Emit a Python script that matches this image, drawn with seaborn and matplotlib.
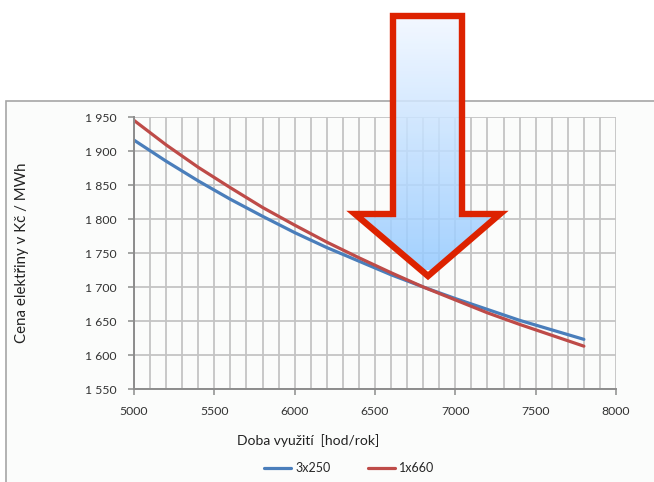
import numpy as np
import pandas as pd
import matplotlib
matplotlib.use("Agg")
import matplotlib.pyplot as plt
from matplotlib.patches import Polygon, Rectangle
from matplotlib.ticker import MultipleLocator, FixedLocator
import seaborn as sns

# Operating hours per year
hours = [5000, 5200, 5400, 5600, 5800, 6000, 6200, 6400,
         6600, 6800, 7000, 7200, 7400, 7600, 7800]

# Electricity price [CZK / MWh] for both unit configurations
price_3x250 = [1916, 1885, 1856, 1829, 1804, 1780, 1758, 1738,
               1718, 1700, 1683, 1667, 1651, 1637, 1623]
price_1x660 = [1945, 1909, 1876, 1846, 1817, 1791, 1766, 1743,
               1721, 1700, 1681, 1662, 1645, 1629, 1613]

series_names = ["3x250", "1x660"]
x_ticks = [5000, 5500, 6000, 6500, 7000, 7500, 8000]
y_ticks = [1550, 1600, 1650, 1700, 1750, 1800, 1850, 1900, 1950]
y_tick_labels = ["1 550", "1 600", "1 650", "1 700", "1 750",
                 "1 800", "1 850", "1 900", "1 950"]

df = pd.DataFrame({
    "hours": hours * 2,
    "price": price_3x250 + price_1x660,
    "series": [series_names[0]] * len(hours) + [series_names[1]] * len(hours),
})

sns.set_style("white")
plt.rcParams["font.family"] = ["Lato", "DejaVu Sans"]

W, H = 654, 482
fig = plt.figure(figsize=(W / 100, H / 100), dpi=100)
fig.patch.set_facecolor("white")

# background panel with a thin grey frame
bg = fig.add_axes([0, 0, 1, 1], zorder=0)
bg.set_xlim(0, W)
bg.set_ylim(H, 0)
bg.axis("off")
bg.add_patch(Rectangle((6, 101), 700, 500, facecolor="#fbfcfb",
                       edgecolor="#a6a6a6", linewidth=1.2))

left, right, top, bottom = 134, 616, 117, 389
ax = fig.add_axes([left / W, 1 - bottom / H, (right - left) / W, (bottom - top) / H],
                  zorder=1)
ax.patch.set_alpha(0)

palette = {"3x250": "#4a7ebb", "1x660": "#be4b48"}
sns.lineplot(data=df, x="hours", y="price", hue="series", palette=palette,
             linewidth=2.3, ax=ax, legend=True)

ax.set_xlim(5000, 8000)
ax.set_ylim(1550, 1950)
ax.xaxis.set_major_locator(FixedLocator(x_ticks))
ax.xaxis.set_minor_locator(MultipleLocator(100))
ax.set_yticks(y_ticks)
ax.set_yticklabels(y_tick_labels)

grid_c = "#c4c4c4"
ax.grid(True, which="both", axis="x", color=grid_c, linewidth=1.3)
ax.grid(True, which="major", axis="y", color=grid_c, linewidth=1.3)
ax.set_axisbelow(True)

for side in ["top", "right"]:
    ax.spines[side].set_visible(False)
for side in ["left", "bottom"]:
    ax.spines[side].set_color("#8c8c8c")
    ax.spines[side].set_linewidth(1.4)

ax.tick_params(axis="y", which="major", length=4.5, width=1.1, color="#8c8c8c",
               direction="out", pad=8, labelsize=8.8, labelcolor="#333333", left=True)
ax.tick_params(axis="x", which="major", length=4.5, width=1.1, color="#8c8c8c",
               direction="out", pad=8, labelsize=8.8, labelcolor="#333333", bottom=True)
ax.tick_params(axis="x", which="minor", length=0)

ax.set_xlabel("Doba využití  [hod/rok]", fontsize=10, color="#222222")
ax.xaxis.set_label_coords((308 - left) / (right - left), (bottom - 441) / (bottom - top))
ax.xaxis.label.set_va("center")
ax.set_ylabel("Cena elektřiny v Kč / MWh", fontsize=10.8, color="#222222")
ax.yaxis.set_label_coords(-(left - 22) / (right - left), 0.5)
ax.yaxis.label.set_va("center")

handles, labels = ax.get_legend_handles_labels()
ax.get_legend().remove()
fig.legend(handles, labels, loc="center", bbox_to_anchor=(349 / W, 1 - 468 / H),
           ncol=2, frameon=False, fontsize=9, handlelength=2.2,
           handletextpad=0.3, columnspacing=3.0)

# highlight arrow pointing at the break-even point
ov = fig.add_axes([0, 0, 1, 1], zorder=3)
ov.set_xlim(0, W)
ov.set_ylim(H, 0)
ov.axis("off")
ov.patch.set_alpha(0)

arrow_pts = [(393, 16), (462, 16), (462, 214), (500, 214),
             (428, 276), (355, 214), (393, 214)]
clip = Polygon(arrow_pts, closed=True, facecolor="none", edgecolor="none")
ov.add_patch(clip)
top_c = np.array([0.95, 0.97, 1.0])
bot_c = np.array([0.58, 0.79, 1.0])
t = np.linspace(0, 1, 256)[:, None]
grad = (top_c[None, :] * (1 - t) + bot_c[None, :] * t)[:, None, :]
img = ov.imshow(grad, extent=[350, 505, 270, 13], aspect="auto",
                interpolation="bilinear", alpha=0.85, zorder=1)
img.set_clip_path(clip)
ov.add_patch(Polygon(arrow_pts, closed=True, facecolor="none",
                     edgecolor="#dd2200", linewidth=4.6, joinstyle="miter",
                     zorder=2))

fig.savefig("out.png", dpi=100)
